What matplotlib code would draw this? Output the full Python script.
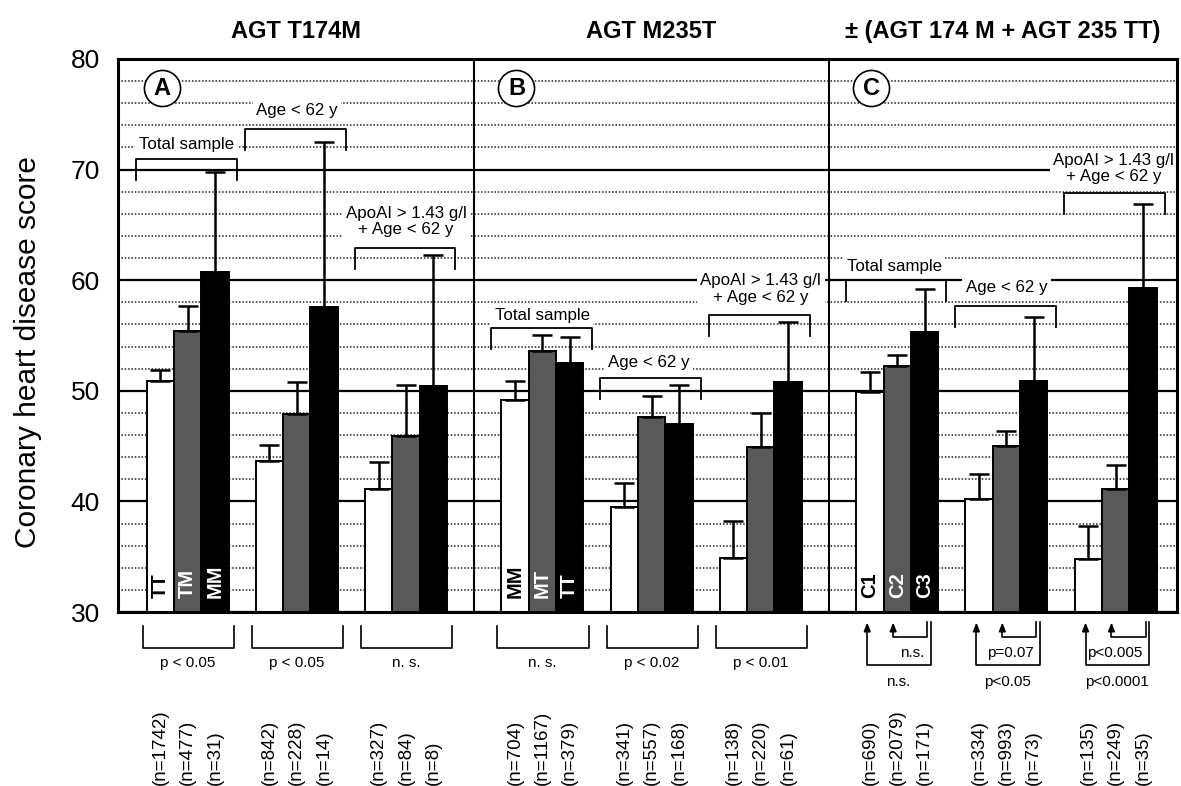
import matplotlib
matplotlib.use("Agg")
import matplotlib.pyplot as plt
from matplotlib import font_manager
import numpy as np

# --- data ---
panel_titles = ["AGT T174M", "AGT M235T", "\u00b1 (AGT 174 M + AGT 235 TT)"]
panel_letters = ["A", "B", "C"]
genotypes = [["TT", "TM", "MM"], ["MM", "MT", "TT"], ["C1", "C2", "C3"]]
subgroups = ["Total sample", "Age < 62 y", "ApoAI > 1.43 g/l\n+ Age < 62 y"] * 3

white_mean = [50.9, 43.65, 41.15, 49.2, 39.5, 34.85, 49.9, 40.2, 34.8]
gray_mean = [55.4, 47.9, 45.9, 53.6, 47.6, 44.95, 52.2, 45.0, 41.1]
black_mean = [60.7, 57.6, 50.4, 52.5, 47.0, 50.8, 55.3, 50.9, 59.3]
white_err = [1.0, 1.45, 2.45, 1.7, 2.2, 3.35, 1.8, 2.3, 3.0]
gray_err = [2.3, 2.9, 4.6, 1.4, 1.9, 3.05, 1.0, 1.4, 2.2]
black_err = [9.1, 14.9, 11.9, 2.4, 3.5, 5.45, 3.9, 5.8, 7.6]

n_white = [1742, 842, 327, 704, 341, 138, 690, 334, 135]
n_gray = [477, 228, 84, 1167, 557, 220, 2079, 993, 249]
n_black = [31, 14, 8, 379, 168, 61, 171, 73, 35]

p_trend = ["p < 0.05", "p < 0.05", "n. s.", "n. s.", "p < 0.02", "p < 0.01"]
p_c3_vs_c2 = ["n.s.", "p=0.07", "p<0.005"]
p_c3_vs_c1 = ["n.s.", "p<0.05", "p<0.0001"]

# --- layout (bar units, bar width = 1) ---
group_start = [0, 4, 8, 13, 17, 21, 26, 30, 34]
bracket_top = [71.0, 73.7, 62.95, 55.7, 51.2, 56.85, 60.0, 57.7, 67.9]
label_y = [72.3, 75.3, 65.3, 56.85, 52.6, 59.2, 61.2, 59.3, 70.1]
label_dx = [1.45, 1.5, 1.5, 1.5, 1.4, 1.5, 1.4, 1.5, 1.42]
dividers = [12, 25]

names = {f.name for f in font_manager.fontManager.ttflist}
NARROW = "Liberation Sans Narrow" if "Liberation Sans Narrow" in names else "Liberation Sans"
plt.rcParams["font.family"] = ["Liberation Sans", "DejaVu Sans"]

fig = plt.figure(figsize=(11.81, 7.86), dpi=100)
ax = fig.add_axes([118 / 1181, 1 - 612 / 786, 1059 / 1181, 553 / 786])
ax.set_xlim(-1.05, 37.75)
ax.set_ylim(30, 80)

# grid
ax.set_yticks(np.arange(30, 81, 10))
ax.set_yticks(np.arange(30, 81, 2), minor=True)
ax.grid(which="major", axis="y", color="black", lw=1.6, zorder=0.5)
ax.grid(which="minor", axis="y", color="#222222", lw=1.1, ls=(0, (1, 1.2)), zorder=0.4)
ax.set_axisbelow(True)
ax.tick_params(axis="y", which="both", length=0, pad=13, labelsize=19)
ax.set_xticks([])
for s in ax.spines.values():
    s.set_linewidth(2.2)
    s.set_zorder(6)
for d in dividers:
    ax.axvline(d, color="black", lw=1.5, zorder=1)

g = np.array(group_start, dtype=float)
series = [(g, white_mean, white_err, "white"),
          (g + 1, gray_mean, gray_err, "#595959"),
          (g + 2, black_mean, black_err, "black")]
for x, m, e, c in series:
    ax.bar(x, m, width=1, align="edge", color=c, edgecolor="black", lw=1.4, zorder=2)
    ax.errorbar(x + 0.5, m, yerr=[np.zeros(len(m)), e], fmt="none", ecolor="black",
                elinewidth=1.8, capsize=7.5, capthick=1.8, zorder=3)

# genotype labels inside first group of each panel
for p in range(3):
    gs = group_start[p * 3]
    cols = ["black", "white", "white"]
    for k in range(3):
        ax.text(gs + k + 0.5, 31.3, genotypes[p][k], rotation=90, ha="center", va="bottom",
                color=cols[k], fontsize=14.5, fontweight="bold", zorder=4)

# brackets and subgroup labels above bars
for i, gs in enumerate(group_start):
    x0, x1 = gs - 0.38, gs + 3.3
    top = bracket_top[i]
    ax.plot([x0, x0, x1, x1], [top - 1.9, top, top, top - 1.9], color="black", lw=1.3, zorder=3)
    ax.text(gs + label_dx[i], label_y[i], subgroups[i], ha="center", va="center", fontsize=12.2,
            family=NARROW, linespacing=1.1, zorder=4,
            bbox=dict(facecolor="white", edgecolor="none", pad=2.5))

# panel titles and circled letters
for p in range(3):
    lo = -1.05 if p == 0 else dividers[p - 1]
    hi = 37.75 if p == 2 else dividers[p]
    ax.text((lo + hi) / 2, 82.5, panel_titles[p], ha="center", va="center", fontsize=17,
            fontweight="bold", family=NARROW, clip_on=False)
    cx = group_start[p * 3] + 0.55
    ax.plot(cx, 77.35, "o", ms=26, mfc="white", mec="black", mew=1.2, zorder=4)
    ax.text(cx, 77.35, panel_letters[p], ha="center", va="center", fontsize=17,
            fontweight="bold", zorder=5)

# significance brackets below axis (panels A and B)
for i in range(6):
    gs = group_start[i]
    x0, x1 = gs - 0.15, gs + 3.2
    ax.plot([x0, x0, x1, x1], [28.73, 26.7, 26.7, 28.73], color="black", lw=1.2, clip_on=False)
    ax.text(gs + 1.5, 25.4, p_trend[i], ha="center", va="center", fontsize=11,
            family=NARROW, clip_on=False)

# arrows for panel C
for j in range(3):
    gs = group_start[6 + j]
    ax.plot([gs + 2.73, gs + 2.73, gs + 0.4, gs + 0.4], [29.13, 25.2, 25.2, 28.6],
            color="black", lw=1.2, clip_on=False)
    ax.plot([gs + 2.6, gs + 2.6, gs + 1.35, gs + 1.35], [29.13, 27.77, 27.77, 28.6],
            color="black", lw=1.2, clip_on=False)
    for ax_x in (gs + 0.4, gs + 1.35):
        ax.annotate("", xy=(ax_x, 29.05), xytext=(ax_x, 28.4), annotation_clip=False,
                    arrowprops=dict(arrowstyle="-|>,head_length=0.5,head_width=0.2",
                                    color="black", lw=1.2, shrinkA=0, shrinkB=0))
    ax.text(gs + 2.5, 26.3, p_c3_vs_c2[j], ha="right", va="center", fontsize=11,
            family=NARROW, clip_on=False)
    ax.text(gs + 1.55, 23.7, p_c3_vs_c1[j], ha="center", va="center", fontsize=11,
            family=NARROW, clip_on=False)

# sample sizes
for i, gs in enumerate(group_start):
    for k, n in enumerate([n_white[i], n_gray[i], n_black[i]]):
        ax.text(gs + k + 0.5, 14.35, "(n=%d)" % n, rotation=90, ha="center", va="bottom",
                fontsize=13.5, clip_on=False)

fig.text(28 / 1181, 1 - 352 / 786, "Coronary heart disease score", rotation=90,
         ha="center", va="center", fontsize=21.5)

fig.savefig("out.png", dpi=100)
